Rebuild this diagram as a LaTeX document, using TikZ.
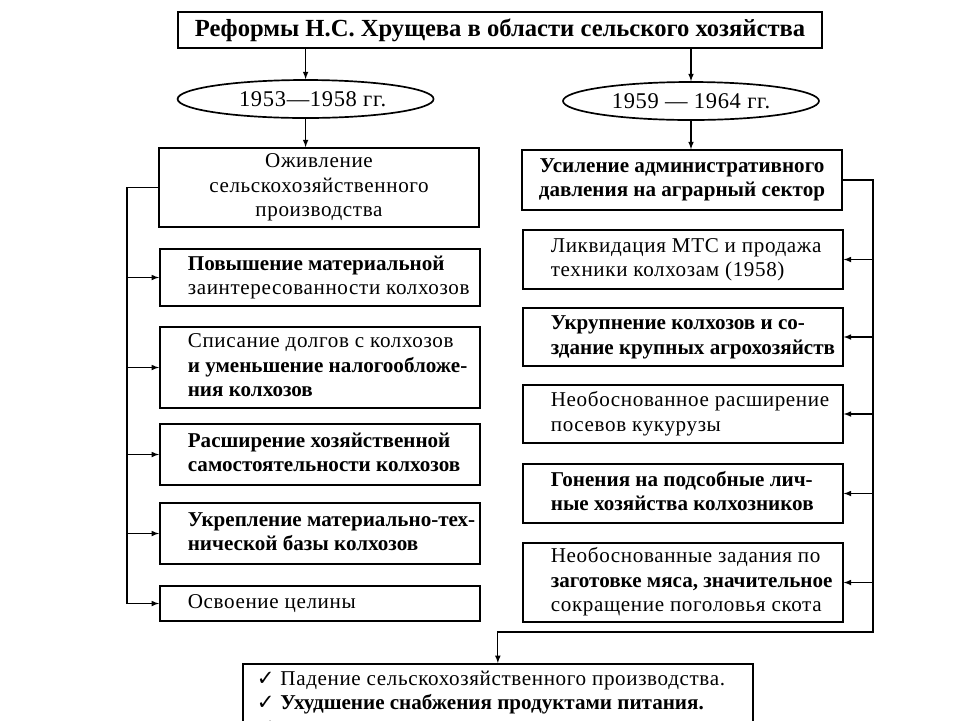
\documentclass[tikz,border=0pt]{standalone}
\usepackage{fontspec}
\setmainfont[LetterSpace=3, BoldFeatures={LetterSpace=0}]{Liberation Serif}
\newfontfamily\symf{DejaVu Sans}
\usetikzlibrary{shapes,arrows,positioning}

% left-aligned text inside a fixed-width box
\newcommand{\itemtext}[1]{\makebox[8cm][l]{\hspace{0.7cm}\begin{tabular}{@{}l@{}}#1\end{tabular}}}
\newcommand{\chk}{{\symf ✓}}

\begin{document}
\begin{tikzpicture}[
  font=\fontsize{15}{17.4}\selectfont,
  box/.style={draw, line width=1.2pt, inner sep=0pt},
  item/.style={box, minimum width=8cm, anchor=west},
  period/.style={draw, line width=1.2pt, ellipse, minimum width=6.4cm, minimum height=0.95cm, inner sep=0pt, font=\fontsize{16}{19}\selectfont},
  arr/.style={-latex, line width=0.8pt}]
\useasboundingbox (0,0) rectangle (24,-18);
\clip (0,0) rectangle (24,-18);

% title and periods
\node[box, minimum width=16.1cm, minimum height=0.9cm, font=\fontsize{17.5}{19}\selectfont\bfseries] (title) at (12.5,-0.75) {Реформы Н.С. Хрущева в области сельского хозяйства};
\node[period] (lyear) at (7.64,-2.475) {\hspace{0.35cm}1953—1958 гг.};
\node[period] (ryear) at (17.275,-2.525) {1959 — 1964 гг.};

% 1953-1958
\node[box, minimum width=8cm, minimum height=1.975cm, align=center] (lstart) at (7.975,-4.6875) {Оживление\\сельскохозяйственного\\производства};
\node[item, minimum height=1.425cm] (l1) at (3.975,-6.9375) {\itemtext{\textbf{Повышение материальной}\\заинтересованности колхозов}};
\node[item, minimum height=2.025cm] (l2) at (3.975,-9.1875) {\itemtext{Списание долгов с колхозов\\\textbf{и уменьшение налогообложе-}\\\textbf{ния колхозов}}};
\node[item, minimum height=1.525cm] (l3) at (3.975,-11.3625) {\itemtext{\textbf{Расширение хозяйственной}\\\textbf{самостоятельности колхозов}}};
\node[item, minimum height=1.525cm] (l4) at (3.975,-13.3375) {\itemtext{\textbf{Укрепление материально-тех-}\\\textbf{нической базы колхозов}}};
\node[item, minimum height=0.875cm] (l5) at (3.975,-15.0875) {\itemtext{Освоение целины}};

% 1959-1964
\node[box, minimum width=8cm, minimum height=1.5cm, align=center, font=\fontsize{15}{17.4}\selectfont\bfseries] (rstart) at (17.05,-4.5) {Усиление административного\\давления на аграрный сектор};
\node[item, minimum height=1.475cm] (r1) at (13.05,-6.4875) {\itemtext{Ликвидация МТС и продажа\\техники колхозам (1958)}};
\node[item, minimum height=1.45cm] (r2) at (13.05,-8.425) {\itemtext{\textbf{Укрупнение колхозов и со-}\\\textbf{здание крупных агрохозяйств}}};
\node[item, minimum height=1.45cm] (r3) at (13.05,-10.35) {\itemtext{Необоснованное расширение\\посевов кукурузы}};
\node[item, minimum height=1.475cm] (r4) at (13.05,-12.3375) {\itemtext{\textbf{Гонения на подсобные лич-}\\\textbf{ные хозяйства колхозников}}};
\node[item, minimum height=1.975cm] (r5) at (13.05,-14.5625) {\itemtext{Необоснованные задания по\\\textbf{заготовке мяса, значительное}\\сокращение поголовья скота}};

% result
\node[box, anchor=north west, minimum width=12.75cm, inner ysep=3pt] (res) at (6.05,-16.575) {\makebox[12.75cm][l]{\hspace{0.35cm}\begin{tabular}{@{}l@{}}\chk{} Падение сельскохозяйственного производства.\\\chk{} \textbf{Ухудшение снабжения продуктами питания.}\\\chk\end{tabular}}};

% connectors
\draw[arr] (title.south -| lyear.north) -- (lyear.north);
\draw[arr] (title.south -| ryear.north) -- (ryear.north);
\draw[arr] (lyear.south) -- (lyear.south |- lstart.north);
\draw[arr] (ryear.south) -- (ryear.south |- rstart.north);

\coordinate (lbus) at (3.175,-4.6875);
\draw[line width=0.8pt] (lstart.west) -- (lbus) -- (lbus |- l5.west);
\foreach \n in {1,...,5} \draw[arr] (lbus |- l\n.west) -- (l\n.west);

\coordinate (rbus) at (21.825,-15.8);
\draw[arr] (rstart.east) -| (rbus) -| (res.north);
\foreach \n in {1,...,5} \draw[arr] (rbus |- r\n.east) -- (r\n.east);
\end{tikzpicture}
\end{document}
